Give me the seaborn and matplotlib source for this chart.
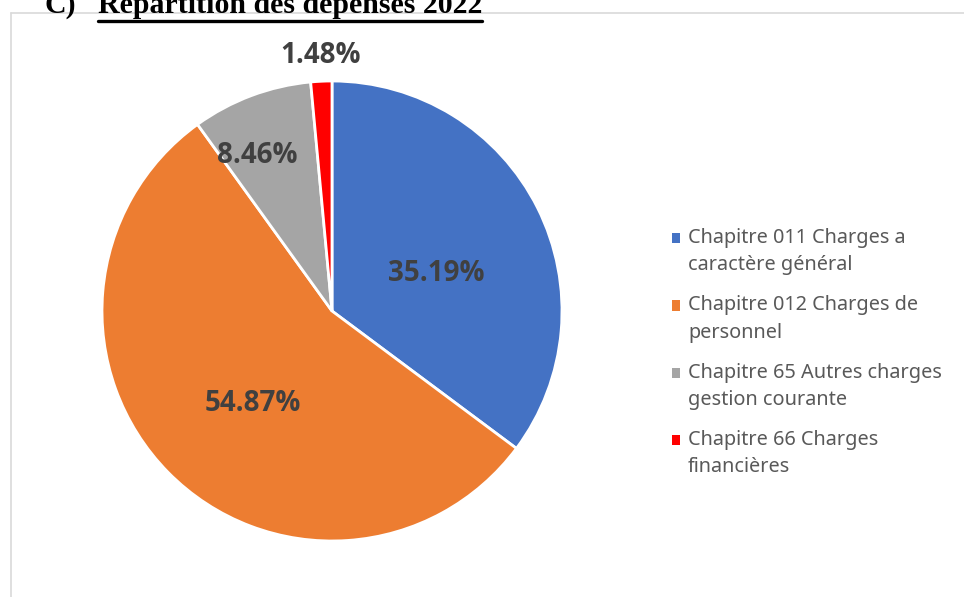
import numpy as np
import matplotlib
matplotlib.use("Agg")
import matplotlib.pyplot as plt
import seaborn as sns
from matplotlib.lines import Line2D
from matplotlib.patches import Rectangle
from matplotlib.legend_handler import HandlerPatch

# -------------- Data

categories = [
    "Chapitre 011 Charges a\ncaractère général",
    "Chapitre 012 Charges de\npersonnel",
    "Chapitre 65 Autres charges\ngestion courante",
    "Chapitre 66 Charges\nfinancières",
]
shares = [35.19, 54.87, 8.46, 1.48]
colors = ["#4472C4", "#ED7D31", "#A5A5A5", "#FF0000"]
title_letter = "C)"
title_text = "Répartition des dépenses 2022"

# distance of each percentage label from the centre (fraction of radius)
label_dist = [0.48, 0.53, 0.75, 1.11]
label_shift = [-7, 5, 5, 0]  # degrees, best-fit style offsets


# legend marker next to the first line of a two-line label
class TopLineHandler(HandlerPatch):
    def create_artists(self, legend, orig_handle, xdescent, ydescent,
                       width, height, fontsize, trans):
        p = Rectangle((-xdescent, -ydescent + 0.7 * fontsize), width, height,
                      facecolor=orig_handle.get_facecolor(), edgecolor="none",
                      transform=trans)
        return [p]


# -------------- Plot

sns.set_theme(style="white")
plt.rcParams["font.family"] = ["Noto Sans", "DejaVu Sans"]

fig = plt.figure(figsize=(9.64, 5.97), dpi=100)
ax = fig.add_axes([102 / 964, 1 - 541 / 597, 460 / 964, 460 / 597])

wedges, _ = ax.pie(
    shares,
    colors=colors,
    startangle=90,
    counterclock=False,
    radius=1.0,
    wedgeprops=dict(edgecolor="white", linewidth=2),
)
ax.set_aspect("equal")
ax.set_xlim(-1, 1)
ax.set_ylim(-1, 1)

for w, val, d, s in zip(wedges, shares, label_dist, label_shift):
    ang = np.deg2rad((w.theta1 + w.theta2) / 2 + s)
    ax.text(d * np.cos(ang), d * np.sin(ang), f"{val:.2f}%",
            ha="center", va="center", fontsize=20, fontweight="bold",
            family=["Open Sans", "DejaVu Sans"], color="#404040")

handles = [Rectangle((0, 0), 1, 1, facecolor=c) for c in colors]
leg = fig.legend(handles, categories, loc="upper left",
                 bbox_to_anchor=(654 / 964, 1 - 210 / 597),
                 frameon=False, fontsize=14.3, labelcolor="#595959",
                 handlelength=0.42, handleheight=0.42, handletextpad=0.4,
                 labelspacing=1.0,
                 handler_map={Rectangle: TopLineHandler()})
for txt in leg.get_texts():
    txt.set_linespacing(1.5)

# chart frame
fig.add_artist(Line2D([10.5 / 964, 10.5 / 964], [0, 1 - 13 / 597],
                      transform=fig.transFigure, color="#D9D9D9", lw=1.2))
fig.add_artist(Line2D([10.5 / 964, 1], [1 - 13 / 597, 1 - 13 / 597],
                      transform=fig.transFigure, color="#D9D9D9", lw=1.2))

# title (clipped at top, as in the source document)
fig.text(45 / 964, 1 - 13 / 597, title_letter, family="Liberation Serif",
         fontweight="bold", fontsize=21.5, color="black", va="baseline")
t = fig.text(98 / 964, 1 - 13 / 597, title_text, family="Liberation Serif",
             fontweight="bold", fontsize=21.5, color="black", va="baseline")
fig.canvas.draw()
bb = t.get_window_extent()
fig.add_artist(Line2D([bb.x0 / 964, bb.x1 / 964], [1 - 20.5 / 597, 1 - 20.5 / 597],
                      transform=fig.transFigure, color="black", lw=2.4))

fig.savefig("out.png", dpi=100)
